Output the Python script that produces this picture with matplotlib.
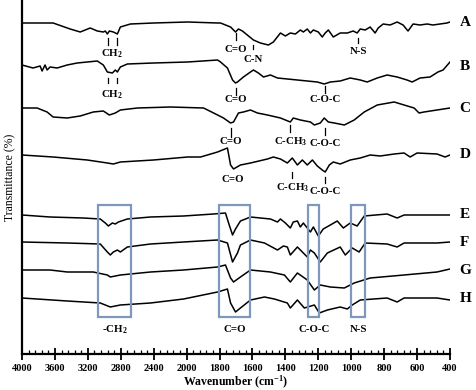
import numpy as np
import matplotlib
matplotlib.use("Agg")
import matplotlib.pyplot as plt
from matplotlib.patches import Rectangle

plt.rcParams['font.family'] = ['Liberation Serif', 'DejaVu Serif']
plt.rcParams['font.weight'] = 'bold'
plt.rcParams['mathtext.fontset'] = 'custom'
plt.rcParams['mathtext.rm'] = 'Liberation Serif:bold'
plt.rcParams['mathtext.it'] = 'Liberation Serif:bold'
plt.rcParams['mathtext.bf'] = 'Liberation Serif:bold'

# spectra, wavenumber (cm-1) and stacked transmittance (arbitrary offset units)
wn_A = [4000, 3622, 3415, 3293, 3171, 3085, 3012, 2988, 2963, 2939, 2890, 2841, 2805, 2683, 2402,
        1994, 1812, 1794, 1733, 1703, 1685, 1661, 1624, 1594, 1552, 1503, 1473, 1430, 1400, 1370,
        1339, 1309, 1291, 1267, 1248, 1230, 1200, 1176, 1158, 1139, 1109, 1067, 1024, 988, 964,
        945, 915, 885, 855, 836, 806, 764, 721, 685, 655, 624, 582, 539, 503, 461, 418, 400]
t_A = [331, 331, 325, 322, 326, 323, 322, 323, 320, 323, 322, 320, 327, 330, 331,
       332, 331, 331, 327, 322, 325, 323, 318, 314, 311, 309, 312, 321, 318, 321,
       320, 324, 322, 325, 321, 324, 322, 317, 321, 324, 317, 321, 321, 323, 321,
       325, 324, 327, 321, 326, 330, 329, 332, 329, 323, 330, 329, 330, 329, 330, 331, 332]

wn_B = [4000, 3866, 3780, 3756, 3720, 3695, 3659, 3573, 3451, 3329, 3207, 3085, 3012, 2963, 2902,
        2866, 2841, 2805, 2720, 2402, 1994, 1812, 1794, 1752, 1721, 1703, 1691, 1655, 1612, 1594,
        1564, 1533, 1491, 1448, 1388, 1327, 1267, 1206, 1164, 1127, 1067, 1006, 945, 903, 842,
        782, 721, 661, 630, 582, 521, 473, 442, 400]
t_B = [289, 286, 288, 283, 289, 284, 287, 286, 289, 291, 292, 293, 289, 282, 281,
       284, 282, 287, 290, 291, 292, 294, 292, 286, 274, 271, 272, 277, 282, 284,
       281, 277, 279, 276, 275, 274, 273, 272, 270, 272, 273, 276, 274, 272, 276,
       279, 277, 274, 272, 276, 277, 282, 284, 292]

wn_C = [4000, 3817, 3695, 3622, 3451, 3293, 3134, 3012, 2939, 2866, 2805, 2598, 2195, 1897, 1836,
        1776, 1733, 1715, 1685, 1655, 1612, 1570, 1509, 1430, 1370, 1352, 1309, 1248, 1224, 1188,
        1164, 1139, 1103, 1042, 982, 921, 842, 739, 679, 618, 588, 558, 479, 400]
t_C = [246, 246, 242, 237, 236, 238, 242, 243, 239, 241, 244, 246, 247, 246, 241,
       236, 231, 232, 241, 242, 244, 241, 239, 236, 232, 236, 234, 232, 229, 231,
       236, 232, 231, 229, 234, 242, 249, 252, 249, 246, 241, 242, 244, 246]

wn_D = [4000, 3622, 3207, 2963, 2890, 2805, 2402, 1994, 1915, 1812, 1752, 1733, 1715, 1673, 1612,
        1509, 1473, 1430, 1388, 1358, 1327, 1297, 1267, 1236, 1206, 1176, 1158, 1133, 1109, 1067,
        1006, 945, 885, 824, 739, 679, 642, 600, 479, 430, 400]
t_D = [199, 197, 194, 191, 190, 192, 194, 197, 197, 202, 206, 189, 185, 189, 191,
       195, 197, 195, 191, 196, 189, 194, 189, 194, 188, 184, 182, 189, 192, 190,
       194, 196, 199, 198, 200, 201, 197, 201, 200, 197, 199]

wn_E = [4000, 3659, 3256, 3049, 2988, 2951, 2902, 2866, 2829, 2720, 2439, 2037, 1836, 1764, 1745,
        1721, 1703, 1673, 1612, 1491, 1448, 1430, 1400, 1370, 1352, 1327, 1309, 1291, 1267, 1248,
        1230, 1200, 1170, 1127, 1085, 1048, 1006, 964, 921, 782, 721, 679, 479, 400]
t_E = [139, 137, 136, 135, 131, 128, 131, 130, 132, 135, 137, 138, 140, 141, 131,
       119, 125, 133, 137, 135, 132, 135, 131, 126, 132, 133, 127, 131, 126, 122,
       127, 118, 125, 129, 133, 126, 131, 128, 138, 140, 136, 139, 139, 139]

wn_F = [4000, 3451, 3049, 2963, 2927, 2890, 2841, 2805, 2720, 2439, 2037, 1812, 1752, 1721, 1691,
        1673, 1612, 1527, 1448, 1412, 1388, 1370, 1327, 1297, 1267, 1248, 1224, 1188, 1145, 1067,
        1036, 994, 952, 915, 782, 721, 679, 479, 400]
t_F = [112, 111, 110, 102, 99, 102, 104, 102, 107, 110, 112, 114, 111, 92, 101,
       109, 114, 111, 104, 108, 107, 99, 107, 102, 97, 104, 101, 92, 101, 107,
       99, 106, 102, 111, 110, 107, 111, 111, 112]

wn_G = [4000, 3659, 3451, 3134, 2963, 2927, 2805, 2439, 2037, 1812, 1764, 1733, 1715, 1673, 1612,
        1491, 1406, 1370, 1327, 1267, 1224, 1188, 1127, 1042, 982, 885, 679, 479, 400]
t_G = [84, 84, 82, 82, 79, 77, 79, 82, 84, 87, 89, 76, 72, 77, 84,
       82, 79, 72, 81, 74, 64, 69, 67, 66, 71, 76, 79, 82, 85]

wn_H = [4000, 3451, 3049, 2927, 2805, 2439, 2037, 1812, 1752, 1733, 1703, 1673, 1612, 1527, 1467,
        1388, 1370, 1327, 1285, 1224, 1194, 1145, 1067, 1024, 994, 945, 782, 721, 679, 479, 400]
t_H = [56, 53, 51, 47, 49, 51, 55, 62, 65, 51, 42, 46, 54, 57, 55,
       51, 46, 54, 46, 49, 41, 44, 47, 45, 49, 54, 56, 52, 56, 56, 54]

names = ["A", "B", "C", "D", "E", "F", "G", "H"]
name_y = [332, 287, 246, 199, 139, 112, 84, 56]

# highlighted bands for E-H (cm-1)
bands = [(3073, 2670), (1806, 1612), (1261, 1194), (1000, 915)]
band_labels = ["-CH$_2$", "C=O", "C-O-C", "N-S"]

x_major = [4000, 3600, 3200, 2800, 2400, 2000, 1800, 1600, 1400, 1200, 1000, 800, 600, 400]


def fwd(w):
    w = np.asarray(w, dtype=float)
    return np.where(w > 2000, 2000 + (w - 2000) / 2.0, w)


def inv(u):
    u = np.asarray(u, dtype=float)
    return np.where(u > 2000, 2000 + (u - 2000) * 2.0, u)


fig = plt.figure(figsize=(4.77, 3.90), dpi=100)
ax = fig.add_axes([22 / 477, 36 / 390, 428 / 477, 354 / 390])
ax.set_xscale('function', functions=(fwd, inv))
ax.set_xlim(4000, 400)
ax.set_ylim(0, 354)

spectra = [(wn_A, t_A), (wn_B, t_B), (wn_C, t_C), (wn_D, t_D),
           (wn_E, t_E), (wn_F, t_F), (wn_G, t_G), (wn_H, t_H)]
for (wn, t), nm, ny in zip(spectra, names, name_y):
    ax.plot(wn, t, color='black', lw=1.1, solid_joinstyle='round')
    ax.text(1.022, ny / 354, nm, transform=ax.transAxes, fontsize=11,
            fontweight='bold', va='center', ha='left', clip_on=False)

# boxes around bands in E-H
for (w1, w2), lab in zip(bands, band_labels):
    ax.add_patch(Rectangle((w1, 37), w2 - w1, 112, fill=False,
                           edgecolor='#7d97bd', lw=1.6, zorder=3))
    ax.text((w1 + w2) / 2, 24, lab, ha='center', va='center', fontsize=7.8)


def mark(w, y0, y1, text=None, ty=None, ticks=None):
    for tw in (ticks if ticks else [w]):
        ax.plot([tw, tw], [y0, y1], color='black', lw=0.9)
    if text:
        ax.text(w, ty, text, ha='center', va='center', fontsize=7.8)


# A
mark(2902, 316, 309, "CH$_2$", 300, ticks=[2951, 2841])
mark(1703, 321, 314, "C=O", 305)
mark(1594, 309, 305, "C-N", 295)
mark(958, 316, 311, "N-S", 303)
# B
mark(2902, 276, 271, "CH$_2$", 259, ticks=[2951, 2841])
mark(1703, 266, 259, "C=O", 254)
mark(1158, 268, 261, "C-O-C", 254)
# C
mark(1733, 226, 217, "C=O", 212)
mark(1370, 229, 222, "C-CH$_3$", 212)
mark(1158, 226, 219, "C-O-C", 211)
# D
ax.text(1721, 174, "C=O", ha='center', va='center', fontsize=7.8)
mark(1358, 182, 176, "C-CH$_3$", 166)
mark(1158, 177, 171, "C-O-C", 162)

ax.spines['top'].set_visible(False)
ax.spines['right'].set_visible(False)
ax.spines['left'].set_linewidth(1.6)
ax.spines['bottom'].set_linewidth(1.6)
ax.set_yticks([])
ax.set_xticks(x_major)
ax.set_xticklabels([str(v) for v in x_major])
minor = [v for v in list(np.arange(2080, 4000, 80)) + list(np.arange(440, 2000, 40))
         if v not in x_major]
ax.set_xticks(minor, minor=True)
ax.tick_params(axis='x', which='major', direction='inout', length=8, width=1.3,
               labelsize=7.5, pad=3)
ax.tick_params(axis='x', which='minor', direction='in', length=3, width=0.9)

ax.set_xlabel("Wavenumber (cm$^{-1}$)", fontsize=8.5, fontweight='bold', labelpad=1)
ax.set_ylabel("Transmittance (%)", fontsize=8.5, fontweight='normal', labelpad=4)

fig.savefig("out.png", dpi=100)
